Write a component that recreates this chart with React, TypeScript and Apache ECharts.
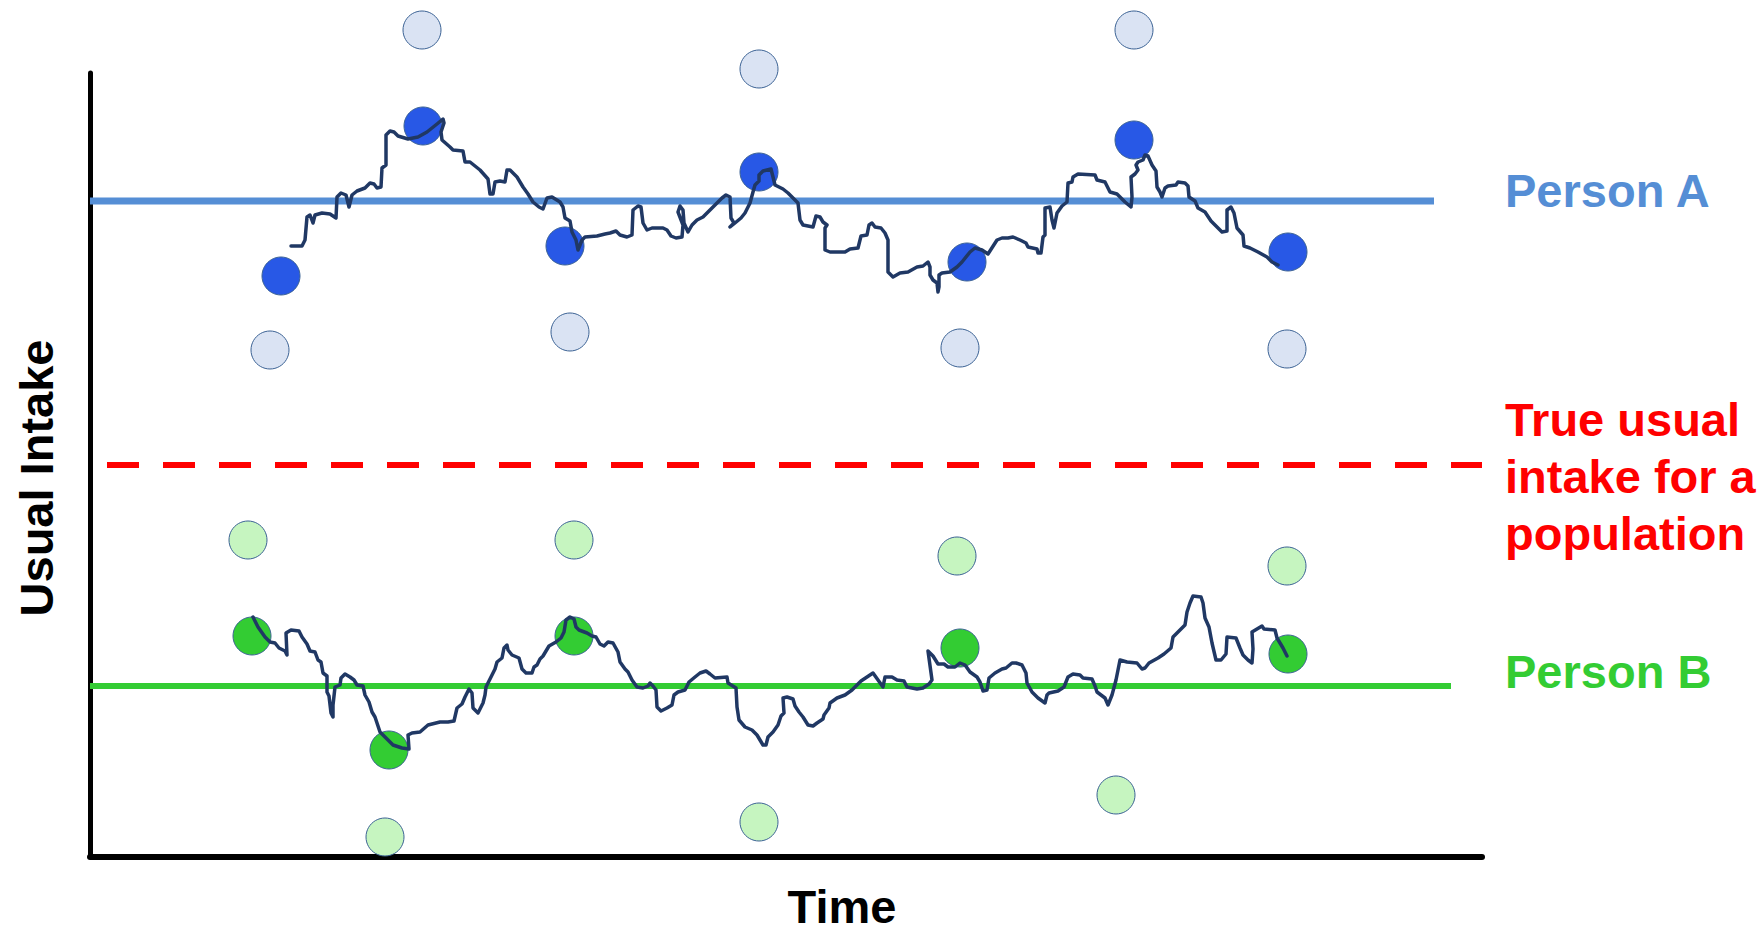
import React, { useEffect, useRef } from "react";
import * as echarts from "echarts";

// Axis extents (arbitrary units, no tick labels in the figure)
const timeRange = [0, 1392];
const intakeRange = [0, 784];

// Person A: day-to-day intake path
const personAPathTime = [
  201, 212, 215, 217, 220, 223, 225, 232, 240, 246, 247, 251, 256, 259, 262, 267, 275, 280, 284, 287, 291, 292, 296, 296,
  300, 304, 308, 318, 328, 337, 347, 353, 354, 351, 352, 360, 363, 373, 375, 380, 390, 398, 400, 403, 405, 410, 415, 417,
  420, 427, 433, 438, 443, 449, 453, 457, 462, 470, 473, 475, 480, 482, 486, 488, 492, 495, 507, 515, 520, 526, 530, 537,
  542, 543, 548, 551, 553, 557, 562, 573, 577, 581, 586, 592, 593, 588, 590, 593, 594, 598, 602, 607, 613, 623, 632, 636,
  640, 641, 644, 640, 645, 651, 655, 660, 663, 665, 669, 669, 673, 681, 683, 685, 693, 698, 703, 708, 710, 713, 723, 726,
  730, 733, 737, 735, 735, 740, 755, 760, 768, 771, 777, 779, 782, 785, 791, 795, 798, 798, 803, 810, 818, 827, 833, 838,
  840, 840, 843, 847, 848, 849, 849, 852, 860, 867, 872, 880, 885, 892, 898, 907, 912, 918, 923, 930, 936, 938, 947, 948,
  951, 953, 955, 955, 960, 962, 964, 967, 972, 977, 978, 982, 983, 988, 1005, 1007, 1015, 1020, 1027, 1035, 1041, 1042,
  1041, 1045, 1048, 1046, 1048, 1053, 1055, 1058, 1062, 1066, 1067, 1070, 1072, 1075, 1078, 1086, 1088, 1095, 1098, 1099,
  1105, 1108, 1115, 1121, 1127, 1132, 1137, 1137, 1141, 1144, 1147, 1153, 1154, 1160, 1168, 1177, 1182, 1188,
];
const personAPathIntake = [
  611, 611, 617, 640, 642, 634, 642, 644, 643, 639, 660, 664, 662, 650, 662, 666, 669, 674, 673, 669, 670, 689, 692, 722,
  726, 725, 721, 718, 720, 725, 733, 738, 734, 725, 717, 710, 707, 706, 695, 695, 687, 678, 663, 663, 675, 676, 675, 687,
  687, 680, 670, 663, 655, 650, 648, 659, 660, 655, 650, 639, 636, 625, 617, 607, 617, 620, 621, 623, 624, 626, 622, 620,
  622, 647, 651, 650, 634, 627, 629, 629, 627, 621, 619, 620, 632, 645, 651, 647, 634, 625, 632, 637, 640, 650, 659, 662,
  660, 639, 634, 630, 634, 639, 644, 654, 665, 672, 676, 682, 686, 688, 680, 672, 668, 664, 659, 654, 637, 632, 630, 641,
  640, 635, 632, 629, 607, 605, 605, 608, 609, 621, 622, 632, 634, 630, 629, 624, 617, 585, 580, 584, 585, 590, 591, 595,
  590, 582, 577, 574, 565, 570, 582, 584, 585, 590, 595, 605, 609, 607, 603, 617, 619, 619, 620, 617, 614, 610, 608, 604,
  604, 620, 622, 649, 650, 637, 629, 644, 651, 655, 674, 675, 680, 683, 682, 677, 675, 665, 663, 655, 650, 660,
  680, 683, 687, 692, 695, 697, 702, 701, 692, 686, 670, 665, 660, 669, 671, 672, 675, 674, 671, 660,
  656, 649, 645, 636, 630, 625, 626, 647, 650, 644, 629, 622, 611, 609, 605, 600, 595, 592,
];

// Person B: day-to-day intake path
const personBPathTime = [
  163, 168, 175, 180, 185, 189, 195, 197, 196, 201, 209, 212, 217, 220, 225, 228, 231, 233, 237, 237, 239, 241, 243, 243,
  245, 250, 251, 255, 260, 264, 267, 273, 275, 279, 282, 285, 287, 290, 297, 303, 312, 319, 318, 322, 330, 338, 350, 358,
  364, 367, 372, 375, 379, 382, 383, 388, 393, 395, 396, 400, 405, 407, 412, 414, 417, 418, 422, 429, 432, 436, 442, 444,
  447, 450, 453, 459, 466, 471, 474, 476, 480, 484, 486, 489, 497, 502, 506, 510, 514, 518, 523, 528, 530, 535, 538, 542,
  547, 553, 558, 560, 563, 566, 567, 571, 577, 582, 584, 588, 595, 599, 605, 610, 616, 620, 625, 637, 638, 646, 647, 649,
  655, 662, 667, 670, 673, 676, 678, 683, 688, 691, 694, 693, 697, 703, 705, 709, 713, 718, 723, 727, 733, 734, 739, 740,
  747, 755, 762, 767, 771, 777, 783, 788, 793, 795, 802, 807, 814, 817, 827, 833, 839, 842, 838, 843, 848, 854, 858, 865,
  870, 875, 880, 887, 890, 893, 897, 899, 905, 912, 916, 922, 926, 932, 936, 937, 942, 948, 955, 957, 959, 968, 974, 978,
  983, 990, 993, 1002, 1005, 1007, 1015, 1018, 1022, 1026, 1027, 1030, 1037, 1047, 1052, 1055, 1059, 1068, 1074, 1081, 1083, 1088,
  1095, 1097, 1100, 1103, 1111, 1113, 1115, 1119, 1122, 1126, 1131, 1136, 1137, 1146, 1150, 1153, 1158, 1162, 1163, 1162, 1167, 1172,
  1174, 1185, 1187, 1193, 1197,
];
const personBPathIntake = [
  240, 230, 220, 215, 214, 209, 206, 202, 224, 227, 226, 220, 213, 206, 205, 197, 195, 184, 181, 165, 161, 144, 140, 152,
  170, 172, 179, 183, 180, 177, 172, 171, 162, 155, 145, 140, 134, 125, 118, 112, 109, 108, 122, 124, 125, 132, 135, 135,
  136, 149, 153, 160, 168, 164, 149, 144, 154, 162, 170, 178, 188, 195, 199, 209, 212, 207, 202, 199, 188, 184, 184, 190,
  192, 198, 201, 211, 215, 219, 225, 237, 240, 238, 230, 227, 224, 221, 220, 213, 211, 215, 214, 205, 195, 188, 185, 177,
  170, 169, 171, 174, 171, 167, 150, 146, 149, 152, 162, 165, 167, 175, 180, 184, 186, 183, 179, 180, 174, 169, 150, 137,
  130, 127, 122, 117, 112, 112, 120, 125, 132, 141, 144, 159, 160, 158, 151, 145, 140, 132, 131, 134, 138, 142, 149, 154,
  159, 162, 167, 172, 176, 180, 184, 177, 170, 180, 180, 177, 176, 170, 168, 169, 173, 177, 206, 201, 193, 193, 190, 190,
  194, 192, 185, 180, 175, 166, 167, 179, 184, 188, 189, 194, 194, 192, 184, 174, 165, 159, 154, 162, 164, 166, 170, 180,
  183, 182, 179, 178, 171, 165, 159, 152, 162, 177, 182, 197, 195, 194, 188, 189, 194, 199, 203, 209, 220, 225,
  232, 245, 254, 261, 260, 254, 239, 230, 214, 197, 197, 203, 220, 219, 209, 202, 197, 194, 208, 225, 228, 231,
  228, 227, 219, 209, 201,
];

// Measured days (dark dots) and other days (pale dots)
const personAMeasuredTime = [191, 333, 475, 669, 877, 1044, 1198];
const personAMeasuredIntake = [581, 731, 611, 685, 595, 717, 605];
const personAOtherTime = [332, 669, 1044, 180, 480, 870, 1197];
const personAOtherIntake = [827, 788, 827, 507, 525, 509, 508];
const personBMeasuredTime = [162, 299, 484, 870, 1198];
const personBMeasuredIntake = [221, 107, 221, 209, 203];
const personBOtherTime = [158, 295, 484, 669, 867, 1026, 1197];
const personBOtherIntake = [317, 20, 317, 35, 301, 62, 291];

// Usual intake levels
const personAUsualTime = [0, 1344];
const personAUsualIntake = [656, 656];
const personBUsualTime = [0, 1361];
const personBUsualIntake = [171, 171];
const populationUsualTime = [17, 1392];
const populationUsualIntake = [392, 392];

// Texts
const xAxisTitle = "Time";
const yAxisTitle = "Usual Intake";
const labelPersonA = "Person A";
const labelPersonB = "Person B";
const labelPopulation = "True usual\nintake for a\npopulation";

const zip = (xs: number[], ys: number[]) => xs.map((x, i) => [x, ys[i]]);

const FONT = "'Liberation Sans', Arial, sans-serif";

export default function App() {
  const ref = useRef<HTMLDivElement>(null);
  useEffect(() => {
    if (!ref.current) return;
    const chart = echarts.init(ref.current, undefined, { renderer: "svg" });
    const dotStyle = { borderColor: "#3b6294", borderWidth: 1, opacity: 1 };
    chart.setOption({
      animation: false,
      backgroundColor: "#ffffff",
      grid: { left: 90, top: 73, right: 282, bottom: 74 },
      xAxis: {
        type: "value",
        min: timeRange[0],
        max: timeRange[1],
        axisLine: { show: true, lineStyle: { color: "#000", width: 6 } },
        axisTick: { show: false },
        axisLabel: { show: false },
        splitLine: { show: false },
      },
      yAxis: {
        type: "value",
        min: intakeRange[0],
        max: intakeRange[1],
        axisLine: { show: true, lineStyle: { color: "#000", width: 5 } },
        axisTick: { show: false },
        axisLabel: { show: false },
        splitLine: { show: false },
      },
      series: [
        {
          type: "line",
          name: "Person A usual",
          data: zip(personAUsualTime, personAUsualIntake),
          showSymbol: false,
          lineStyle: { color: "#558ed5", width: 7 },
          z: 1,
        },
        {
          type: "line",
          name: "Person B usual",
          data: zip(personBUsualTime, personBUsualIntake),
          showSymbol: false,
          lineStyle: { color: "#33cc33", width: 6 },
          z: 1,
        },
        {
          type: "line",
          name: "Population usual",
          data: zip(populationUsualTime, populationUsualIntake),
          showSymbol: false,
          lineStyle: { color: "#ff0000", width: 6, type: [32, 24] },
          z: 1,
        },
        {
          type: "scatter",
          data: zip(personAOtherTime, personAOtherIntake),
          symbolSize: 38,
          clip: false,
          itemStyle: { color: "#dae3f3", ...dotStyle },
          z: 2,
        },
        {
          type: "scatter",
          data: zip(personBOtherTime, personBOtherIntake),
          symbolSize: 38,
          clip: false,
          itemStyle: { color: "#c6f5c0", ...dotStyle },
          z: 2,
        },
        {
          type: "scatter",
          data: zip(personAMeasuredTime, personAMeasuredIntake),
          symbolSize: 38,
          clip: false,
          itemStyle: { color: "#2858e6", ...dotStyle },
          z: 2,
        },
        {
          type: "scatter",
          data: zip(personBMeasuredTime, personBMeasuredIntake),
          symbolSize: 38,
          clip: false,
          itemStyle: { color: "#33cc33", ...dotStyle },
          z: 2,
        },
        {
          type: "line",
          name: "Person A daily",
          data: zip(personAPathTime, personAPathIntake),
          showSymbol: false,
          lineStyle: { color: "#203864", width: 3.5, cap: "round", join: "round" },
          z: 3,
        },
        {
          type: "line",
          name: "Person B daily",
          data: zip(personBPathTime, personBPathIntake),
          showSymbol: false,
          lineStyle: { color: "#203864", width: 3.5, cap: "round", join: "round" },
          z: 3,
        },
      ],
      graphic: [
        {
          type: "text",
          x: 842,
          y: 906,
          style: {
            text: xAxisTitle,
            fill: "#000",
            font: `bold 47px ${FONT}`,
            align: "center",
            verticalAlign: "middle",
          },
        },
        {
          type: "text",
          x: 36,
          y: 478,
          rotation: Math.PI / 2,
          style: {
            text: yAxisTitle,
            fill: "#000",
            font: `bold 47px ${FONT}`,
            align: "center",
            verticalAlign: "middle",
          },
        },
        {
          type: "text",
          x: 1505,
          y: 190,
          style: {
            text: labelPersonA,
            fill: "#558ed5",
            font: `bold 47px ${FONT}`,
            align: "left",
            verticalAlign: "middle",
          },
        },
        {
          type: "text",
          x: 1505,
          y: 476,
          style: {
            text: labelPopulation,
            fill: "#ff0000",
            font: `bold 47px ${FONT}`,
            lineHeight: 57,
            align: "left",
            verticalAlign: "middle",
          },
        },
        {
          type: "text",
          x: 1505,
          y: 671,
          style: {
            text: labelPersonB,
            fill: "#33cc33",
            font: `bold 47px ${FONT}`,
            align: "left",
            verticalAlign: "middle",
          },
        },
      ],
    });
    return () => chart.dispose();
  }, []);
  return (
    <div
      ref={ref}
      style={{ position: "fixed", left: 0, top: 0, width: 1764, height: 931, background: "#fff" }}
    />
  );
}
